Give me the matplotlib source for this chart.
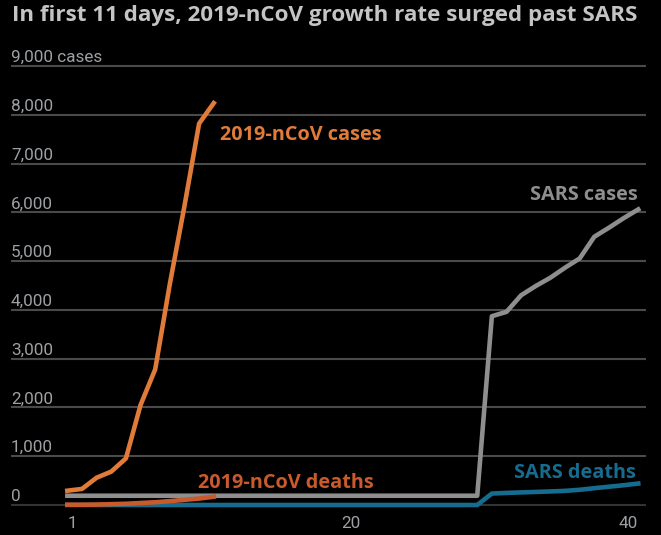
import matplotlib.pyplot as plt

# Data (day since first report -> cumulative count)
ncov_days = list(range(1, 12))
ncov_cases = [293, 330, 560, 685, 955, 2050, 2780, 4530, 6130, 7820, 8240]
ncov_deaths = [6, 6, 9, 17, 25, 41, 56, 80, 106, 132, 170]

sars_days = list(range(1, 41))
sars_cases = [190] * 29 + [3870, 3960, 4300, 4490, 4660, 4865, 5055, 5500, 5685, 5880, 6060]
sars_deaths = [0] * 29 + [235, 248, 258, 268, 278, 290, 312, 345, 375, 405, 440]

y_ticks = [0, 1000, 2000, 3000, 4000, 5000, 6000, 7000, 8000, 9000]
y_labels = ["0", "1,000", "2,000", "3,000", "4,000", "5,000", "6,000", "7,000", "8,000", "9,000 cases"]
x_ticks = [1, 20, 40]
x_labels = ["1", "20", "40"]

# Colours
bg = "black"
c_ncov = "#e07b39"
c_ncov_d = "#c95a2b"
c_sars = "#8e8e8e"
c_sars_d = "#166c8e"
c_text = "#9ea1a4"
c_grid = "#4a4a4a"

plt.rcParams["font.family"] = ["Roboto", "DejaVu Sans"]
bold = ["Open Sans", "DejaVu Sans"]

fig = plt.figure(figsize=(6.61, 5.35), dpi=100, facecolor=bg)
ax = fig.add_axes([11 / 661, 20 / 535, 635 / 661, 455 / 535], facecolor=bg)
ax.set_xlim(-2.85, 40.53)
ax.set_ylim(-205, 9123)

# grid lines with labels sitting above them
for v, lab in zip(y_ticks, y_labels):
    ax.axhline(v, color=c_grid if v else "#333333", lw=1.5, zorder=1)
    ax.text(0, v + 80, lab, transform=ax.get_yaxis_transform(), color=c_text,
            fontsize=12.3, ha="left", va="baseline")

# lines
ax.plot(sars_days, sars_cases, color=c_sars, lw=3.3, zorder=3, clip_on=False)
ax.plot(sars_days, sars_deaths, color=c_sars_d, lw=3.3, zorder=3, clip_on=False)
ax.plot(ncov_days, ncov_deaths, color=c_ncov_d, lw=3.3, zorder=4, clip_on=False)
ax.plot(ncov_days, ncov_cases, color=c_ncov, lw=3.3, zorder=4, clip_on=False)

# direct labels
lab_kw = dict(fontsize=14.3, fontweight="bold", family=bold, va="center")
ax.text(11.43, 7580, "2019-nCoV cases", color=c_ncov, ha="left", **lab_kw)
ax.text(9.93, 450, "2019-nCoV deaths", color=c_ncov_d, ha="left", **lab_kw)
ax.text(39.98, 6350, "SARS cases", color=c_sars, ha="right", **lab_kw)
ax.text(39.84, 660, "SARS deaths", color=c_sars_d, ha="right", **lab_kw)

# x tick labels
for x, lab, ha in zip(x_ticks, x_labels, ["left", "center", "right"]):
    ax.text(x if ha != "center" else x + 0.35, -8 / 455, lab, transform=ax.get_xaxis_transform(),
            color=c_text, fontsize=12.3, ha=ha, va="center")

for s in ax.spines.values():
    s.set_visible(False)
ax.set_xticks([])
ax.set_yticks([])

fig.text(12 / 661, 1 - 20.7 / 535, "In first 11 days, 2019-nCoV growth rate surged past SARS",
         color="#c4c4c4", fontsize=16.1, fontweight="bold", family=bold,
         ha="left", va="baseline")

fig.savefig("out.png", dpi=100, facecolor=bg)
